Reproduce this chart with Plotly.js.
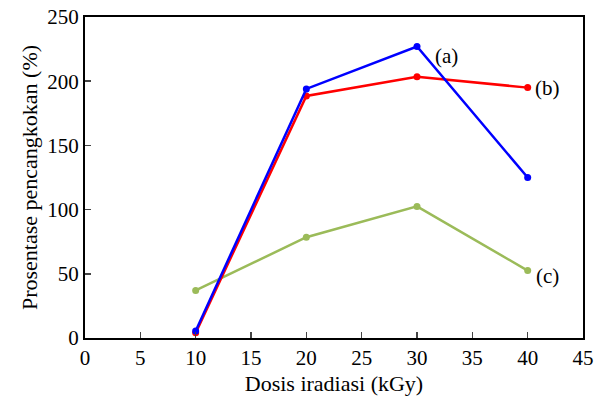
<!DOCTYPE html>
<html>
<head>
<meta charset="utf-8">
<script src="https://cdn.plot.ly/plotly-3.0.1.min.js"></script>
<style>html,body{margin:0;padding:0;background:#fff;}</style>
</head>
<body>
<div id="chart" style="width:602px;height:398px;"></div>
<script>
const dose = [10, 20, 30, 40];
const seriesA = [5.5, 194, 227, 125];
const seriesB = [4, 188.5, 203.5, 195];
const seriesC = [37, 78.5, 102.5, 52.5];
const labels = ["(a)", "(b)", "(c)"];
const labelX = [32.7, 41.8, 41.8];
const labelY = [220, 195, 48];

const font = "Liberation Serif, Times New Roman, serif";
function trace(y, color) {
  return {x: dose, y: y, type: "scatter", mode: "lines+markers",
    line: {color: color, width: 2.5}, marker: {color: color, size: 7}, showlegend: false};
}
const data = [trace(seriesC, "#9BBB59"), trace(seriesB, "#FF0000"), trace(seriesA, "#0000FF")];
const layout = {
  width: 602, height: 398,
  margin: {l: 85, r: 19, t: 17, b: 60},
  paper_bgcolor: "#fff", plot_bgcolor: "#fff",
  font: {family: font, size: 21, color: "#000"},
  xaxis: {range: [0, 45], dtick: 5, tick0: 0, ticks: "inside", ticklen: 6, tickwidth: 1.5,
    showline: true, linewidth: 2, linecolor: "#000", mirror: true, showgrid: false, zeroline: false,
    tickfont: {size: 21},
    title: {text: "Dosis iradiasi (kGy)", font: {size: 22}, standoff: 6}},
  yaxis: {range: [0, 250], dtick: 50, tick0: 0, ticks: "inside", ticklen: 6, tickwidth: 1.5,
    showline: true, linewidth: 2, linecolor: "#000", mirror: true, showgrid: false, zeroline: false,
    tickfont: {size: 21},
    title: {text: "Prosentase pencangkokan (%)", font: {size: 22}, standoff: 4}},
  annotations: labels.map((t, i) => ({x: labelX[i], y: labelY[i], text: t, showarrow: false,
    font: {size: 21}, xanchor: "center", yanchor: "middle"}))
};
Plotly.newPlot("chart", data, layout, {displayModeBar: false, staticPlot: true});
</script>
</body>
</html>
